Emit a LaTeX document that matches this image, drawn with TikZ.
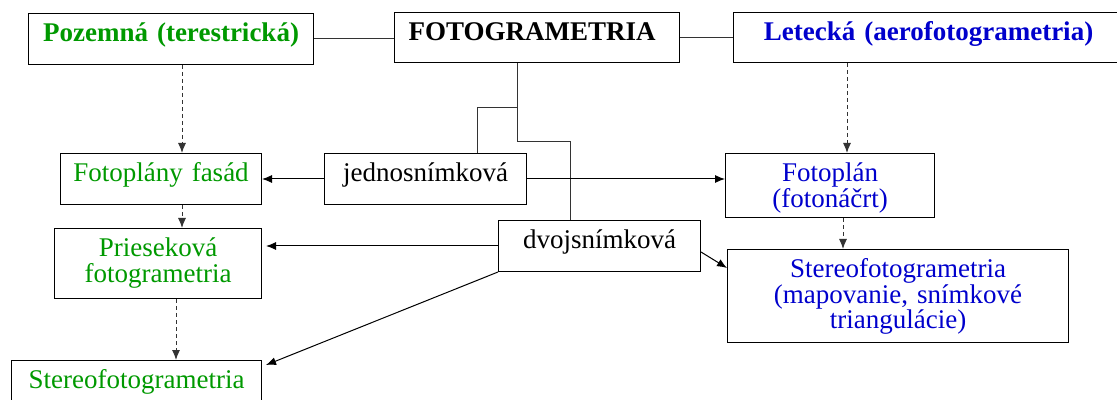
\documentclass[tikz,border=0pt]{standalone}
\usepackage{fontspec}
\setmainfont{Liberation Serif}
\usetikzlibrary{arrows.meta, calc}
\definecolor{terra}{RGB}{0,153,0}
\definecolor{aero}{RGB}{0,0,204}
\newcommand\boxfont{\fontsize{13.5}{12.8}\selectfont\lineskiplimit=-20pt\relax}

\begin{document}
\begin{tikzpicture}[
  x=0.5pt, y=-0.5pt,
  every node/.style={font=\boxfont},
  card/.style={draw, line width=0.5pt, anchor=north west, inner sep=0pt, align=center, text height=14pt, text depth=11.5pt},
  headcard/.style={card, font=\boxfont\bfseries},
  line/.style={line width=0.5pt, draw=black!80},
  arrow/.style={line, draw=black, -{Latex[length=5pt, width=4pt]}},
  dashline/.style={arrow, draw=black!80, dash pattern=on 2pt off 1.5pt}
]
\useasboundingbox (0,0) rectangle (1117,400);
\clip (0,0) rectangle (1117,400);

\node[headcard, text width=142.5pt, text=terra] (poz) at (28,13) {Pozemná (terestrická)};
\node[headcard, text width=128.5pt, inner xsep=7pt, align=left, text depth=11pt] (foto) at (394,12) {FOTOGRAMETRIA};
\node[headcard, text width=195pt, text=aero, text depth=11pt] (let) at (733,12) {Letecká (aerofotogrametria)};
\node[card, text width=100.5pt, text=terra] (fas) at (60,153) {Fotoplány fasád};
\node[card, text width=101pt] (jedno) at (324,153) {jednosnímková};
\node[card, text width=104.5pt, text=aero, text depth=18pt] (plan) at (725,153) {Fotoplán\\(fotonáčrt)};
\node[card, text width=101pt] (dvoj) at (498,220) {dvojsnímková};
\node[card, text width=103.5pt, text=terra, text depth=21pt] (pries) at (54,228) {Prieseková\\fotogrametria};
\node[card, text width=170.5pt, text=aero, text depth=32.5pt] (stR) at (727,249) {Stereofotogrametria\\(mapovanie, snímkové\\triangulácie)};
\node[card, text width=125pt, text=terra] (stL) at (11,360) {Stereofotogrametria};

\coordinate (split) at (517,108);
\coordinate (hook) at (477,108);
\coordinate (turn) at (517,142);
\coordinate (drop) at (570,142);
\coordinate (lx) at (182,0);
\coordinate (lx2) at (176,0);
\coordinate (rx) at (847,0);
\coordinate (rx2) at (843,0);

\draw[line] (poz.east) -- (poz.east -| foto.west);
\draw[line] (foto) -- (let);
\draw[line] (foto.south -| split) -- (turn) -- (drop) -- (drop |- dvoj.north);
\draw[line] (split) -- (hook) -- (hook |- jedno.north);

\draw[arrow] (jedno) -- (fas);
\draw[arrow] (jedno.east) -- (jedno.east -| plan.west);
\draw[arrow, shorten >=2pt] (dvoj.west) -- (dvoj.west -| pries.east);
\draw[arrow] ([yshift=-3pt]dvoj.east) -- ([yshift=-9.5pt]stR.north west);
\draw[arrow] (dvoj.south west) -- ([xshift=2pt, yshift=-2.5pt]stL.north east);

\draw[dashline] (poz.south -| lx) -- (fas.north -| lx);
\draw[dashline] (fas.south -| lx) -- (pries.north -| lx);
\draw[dashline] (pries.south -| lx2) -- (stL.north -| lx2);
\draw[dashline] (let.south -| rx) -- (plan.north -| rx);
\draw[dashline] (plan.south -| rx2) -- (stR.north -| rx2);
\end{tikzpicture}
\end{document}
